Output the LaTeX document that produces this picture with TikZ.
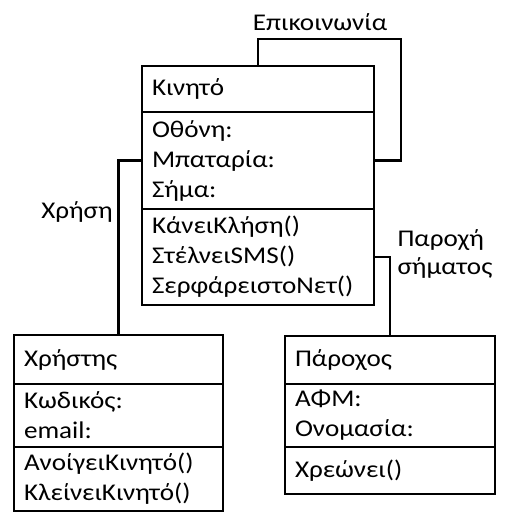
\documentclass[tikz,border=0pt]{standalone}
\usepackage{fontspec}
\setmainfont{Carlito}[FakeStretch=1.13]
\usetikzlibrary{positioning}

\tikzset{
  part/.style={draw, line width=2.2pt, text width=#1, align=left, outer sep=0pt,
    inner xsep=10pt, inner ysep=0pt, font=\fontsize{24}{30}\selectfont},
  conn/.style={line width=2.2pt},
  lbl/.style={font=\fontsize{24}{28}\selectfont, align=left}
}

\begin{document}
\begin{tikzpicture}[x=1pt,y=-1pt]
  \useasboundingbox (0,0) rectangle (511,523);

  % Kinito
  \node[part=212pt, anchor=north west, minimum height=46pt] (kin) at (142,66) {Κινητό};
  \node[part=212pt, below=0pt of kin, minimum height=97pt] (kinattr) {Οθόνη:\\Μπαταρία:\\Σήμα:};
  \node[part=212pt, below=0pt of kinattr, minimum height=96pt] (kinmeth) {ΚάνειΚλήση()\\ΣτέλνειSMS()\\ΣερφάρειστοΝετ()};

  % Xristis
  \node[part=189pt, anchor=north west, minimum height=49pt] (xri) at (14,335) {Χρήστης};
  \node[part=189pt, below=0pt of xri, minimum height=63pt] (xriattr) {Κωδικός:\\email:};
  \node[part=189pt, below=0pt of xriattr, minimum height=64pt] (xrimeth) {ΑνοίγειΚινητό()\\ΚλείνειΚινητό()};

  % Parochos
  \node[part=190pt, anchor=north west, minimum height=48pt] (par) at (285,336) {Πάροχος};
  \node[part=190pt, below=0pt of par, minimum height=63pt] (parattr) {ΑΦΜ:\\Ονομασία:};
  \node[part=190pt, below=0pt of parattr, minimum height=47pt] (parmeth) {Χρεώνει()};

  % connectors
  \coordinate (loop) at (401,39);
  \draw[conn] ([xshift=116pt]kin.north west) |- (loop) |- (kinattr.east);
  \draw[conn] (kinattr.west) -| (xri.north);
  \draw[conn] (kinmeth.east) -| (par.north);

  \node[lbl] (epik) at (320,22) {Επικοινωνία};
  \node[lbl] (xrisi) at (77,212) {Χρήση};
  \node[lbl, anchor=west] (paroxi) at (394,254) {Παροχή\\σήματος};
\end{tikzpicture}
\end{document}
